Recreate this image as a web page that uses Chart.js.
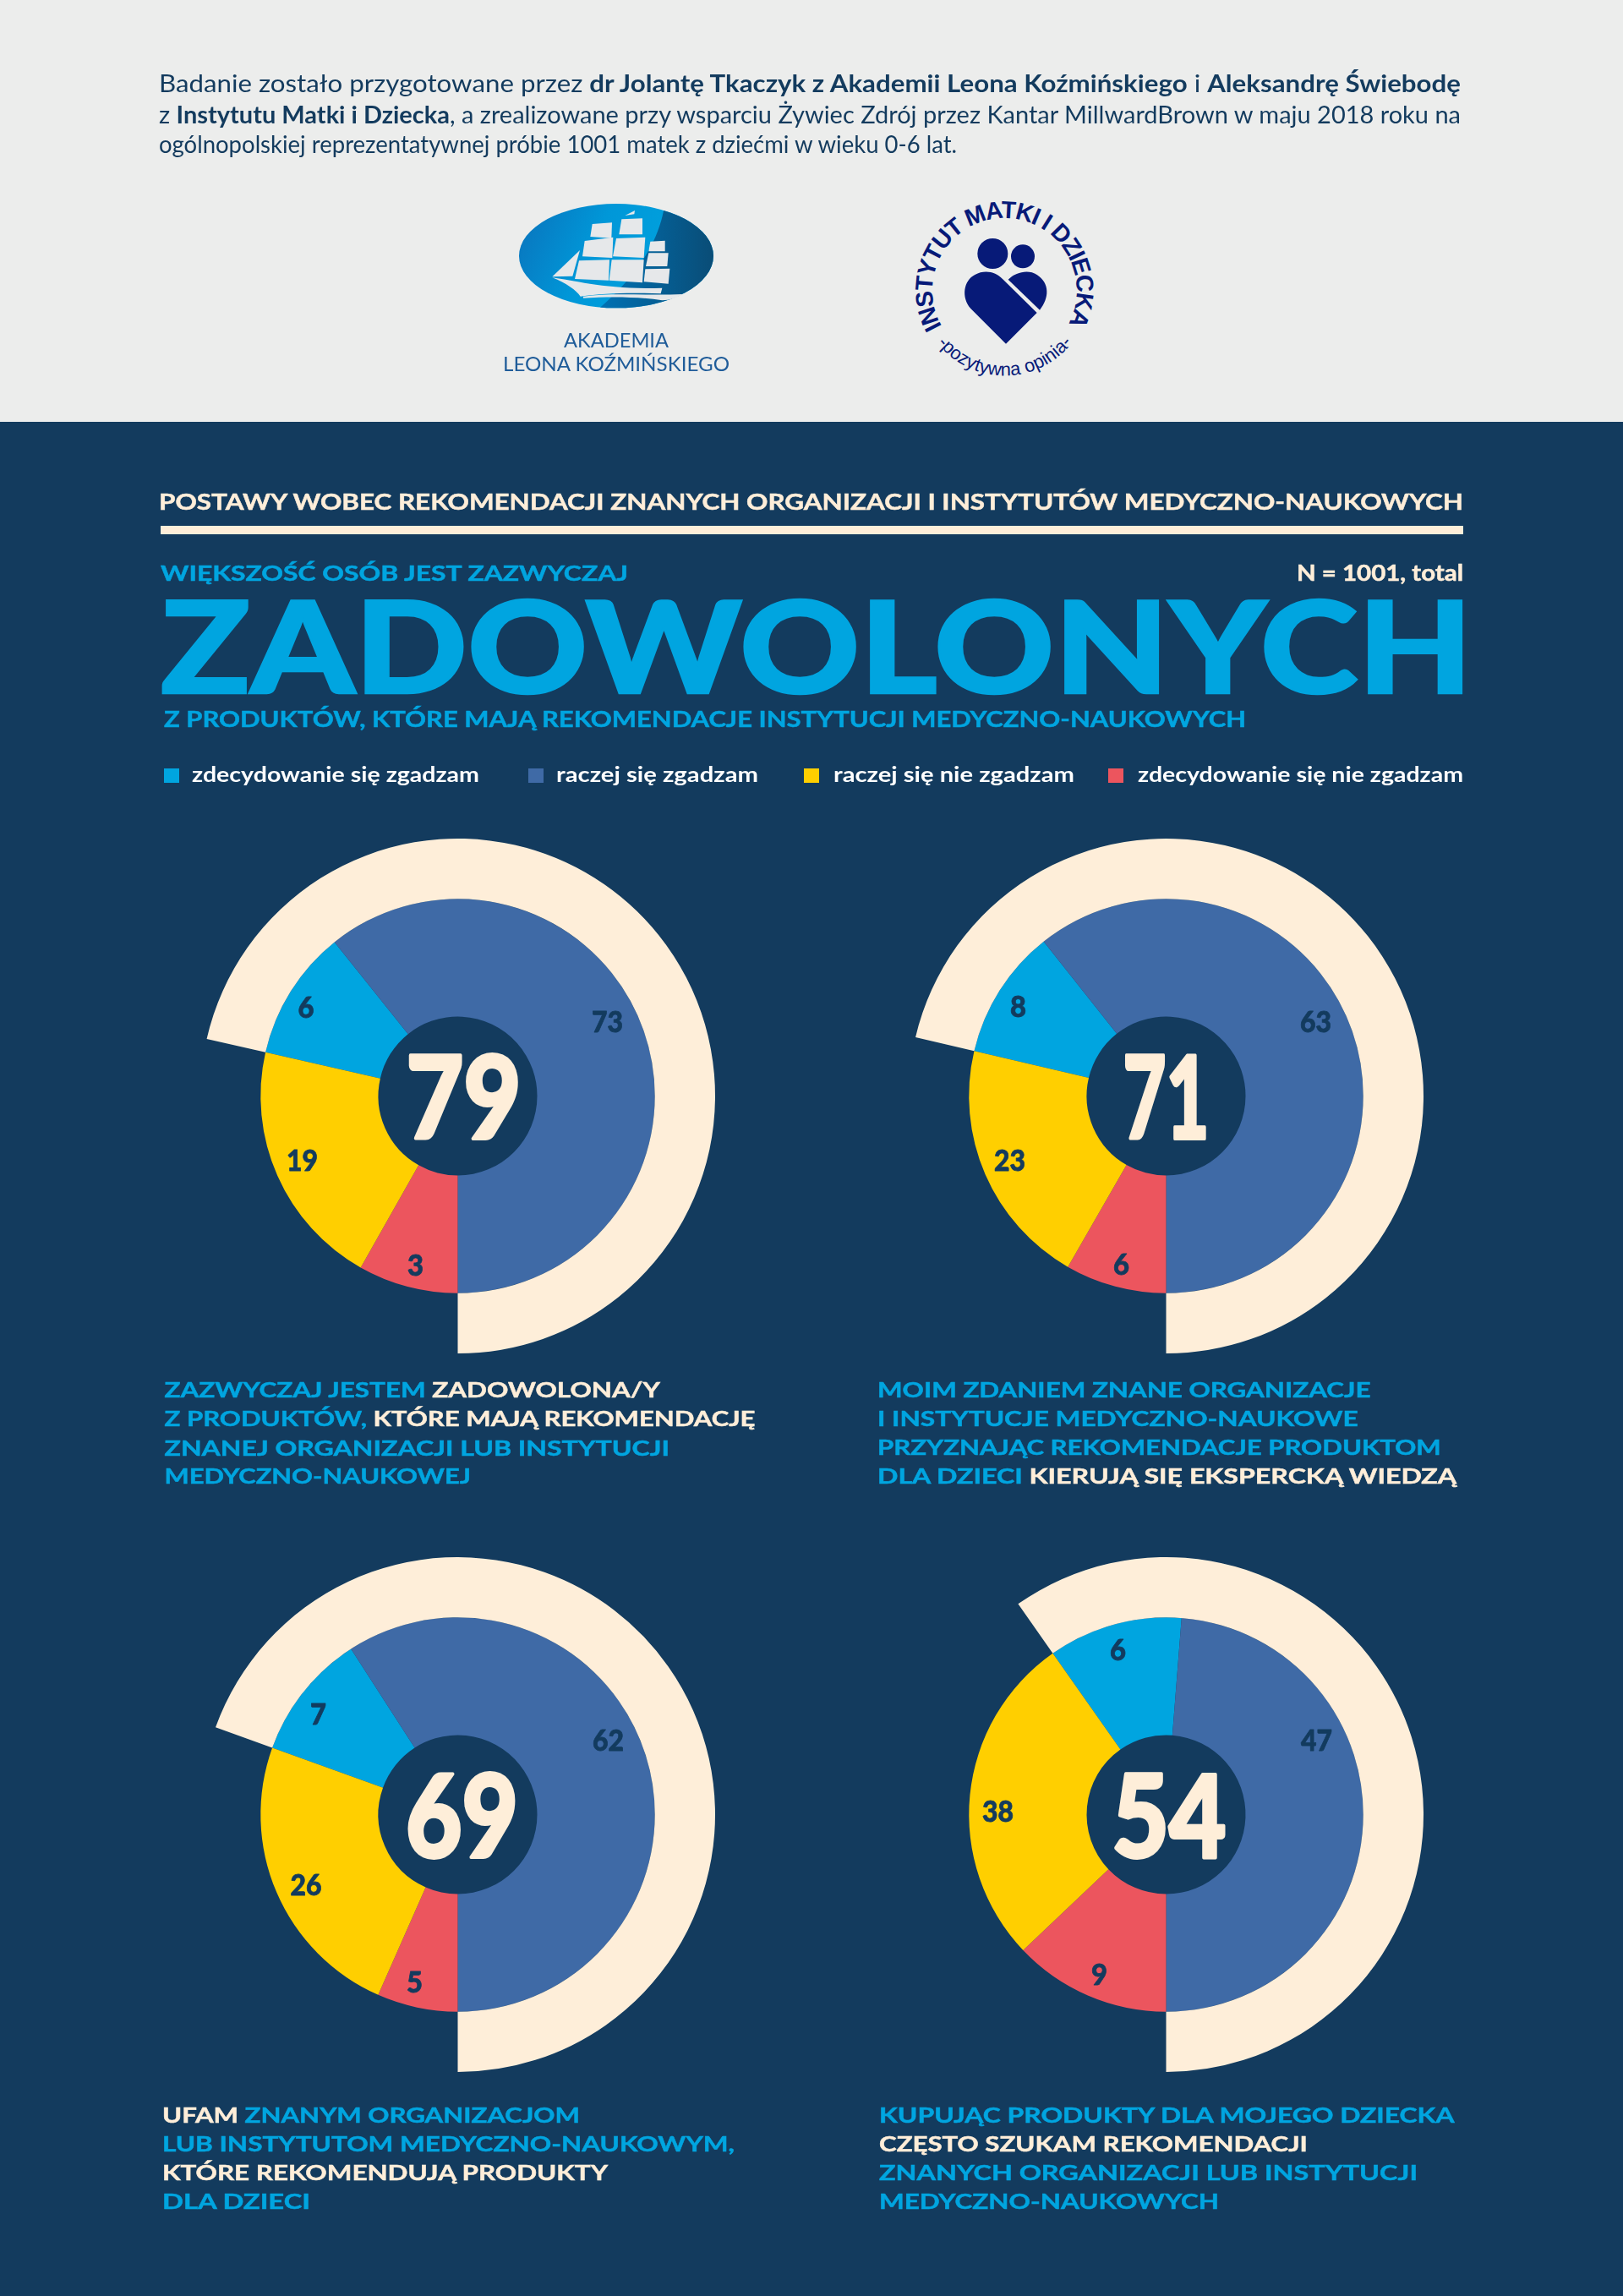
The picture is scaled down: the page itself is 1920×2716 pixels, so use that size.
<!DOCTYPE html>
<html lang="pl">
<head>
<meta charset="utf-8">
<title>Postawy wobec rekomendacji</title>
<script src="https://cdn.jsdelivr.net/npm/chart.js@4"></script>
<style>
  html, body { margin: 0; padding: 0; background: #133b5e; }
  #page { position: relative; width: 1920px; height: 2716px; overflow: hidden; background: #133b5e; }
  #band { position: absolute; left: 0; top: 0; width: 1920px; height: 499px; background: #ecedec; }
  #rule { position: absolute; left: 190px; top: 622px; width: 1541px; height: 10px; background: #feeed9; }
  #textLayer { position: absolute; left: 0; top: 0; z-index: 2; }
  #textLayer text { font-family: Lato, "Open Sans", sans-serif; white-space: pre; }
  .logo { position: absolute; z-index: 2; }
  canvas { position: absolute; z-index: 1; }
  .swatch { position: absolute; top: 909px; width: 18px; height: 17px; }
</style>
</head>
<body>
<div id="page">
  <div id="band"></div>
  <div id="rule"></div>

  <svg class="logo" style="left:580px;top:220px" width="300" height="240" viewBox="0 0 900 720">
    <defs>
      <linearGradient id="shipBase" x1="0" y1="0" x2="1" y2="0.25">
        <stop offset="0" stop-color="#0a72bb"/>
        <stop offset="0.45" stop-color="#0097d8"/>
        <stop offset="1" stop-color="#00a5e0"/>
      </linearGradient>
      <linearGradient id="shipDark" x1="0" y1="0" x2="1" y2="0">
        <stop offset="0" stop-color="#0072b5"/>
        <stop offset="1" stop-color="#0a4a72"/>
      </linearGradient>
      <clipPath id="shipClip"><ellipse cx="447" cy="248" rx="345" ry="185"/></clipPath>
    </defs>
    <ellipse cx="447" cy="248" rx="345" ry="185" fill="url(#shipBase)"/>
    <g clip-path="url(#shipClip)">
      <path d="M620 60 C600 200 520 320 380 440 L820 440 L820 60 Z" fill="url(#shipDark)"/>
    </g>
    <g fill="#e6e8ea">
      <path d="M478 105 L513 87 L511 100 Z"/>
      <path d="M362 135 L432 130 L430 185 L355 180 Z"/>
      <path d="M466 118 L540 115 L540 172 L457 172 Z"/>
      <path d="M335 195 L436 182 L433 255 L327 250 Z"/>
      <path d="M447 186 L550 182 L545 255 L435 250 Z"/>
      <path d="M315 265 L423 262 L420 335 L300 330 Z"/>
      <path d="M431 262 L545 262 L540 343 L422 335 Z"/>
      <path d="M568 197 L620 194 L620 232 L562 232 Z"/>
      <path d="M562 238 L632 238 L628 285 L552 285 Z"/>
      <path d="M550 295 L637 293 L632 347 L545 340 Z"/>
      <path d="M220 322 L318 228 L292 320 Z"/>
      <path d="M220 325 C300 335 420 370 610 362 L605 382 C500 378 400 380 320 392 C305 370 270 345 220 325 Z"/>
      <path d="M330 392 C430 378 560 390 682 384 C660 398 640 405 610 406 C520 392 420 392 330 398 Z"/>
    </g>
  </svg>

  <svg class="logo" style="left:1050px;top:220px" width="270" height="240" viewBox="0 0 810 720">
    <defs>
      <path id="ringTop" d="M193 498 A256 256 0 1 1 641 490"/>
      <path id="ringBottom" d="M176 557 A304 304 0 0 0 654 557"/>
    </defs>
    <g fill="#071a78">
      <circle cx="373" cy="240" r="54"/>
      <circle cx="480" cy="250" r="42"/>
      <path d="M420 560 L295 435 C260 395 270 335 310 315 C345 295 385 305 408 330 L530 450 Z"/>
      <path d="M428 332 C455 305 500 295 530 315 C575 345 575 395 540 440 Z"/>
      <text font-family="Liberation Sans" font-weight="700" font-size="86"><textPath href="#ringTop" textLength="1062">INSTYTUT MATKI I DZIECKA</textPath></text>
      <text font-family="Liberation Sans" font-size="66"><textPath href="#ringBottom" textLength="552">-pozytywna opinia-</textPath></text>
    </g>
  </svg>

  <svg id="textLayer" width="1920" height="2716"></svg>

  <div class="swatch" style="left:194px;background:#00a5e0"></div>
  <div class="swatch" style="left:625px;background:#3f6aa6"></div>
  <div class="swatch" style="left:951px;background:#ffcf00"></div>
  <div class="swatch" style="left:1311px;background:#ec555e"></div>

  <canvas id="chart0"></canvas>
  <canvas id="chart1"></canvas>
  <canvas id="chart2"></canvas>
  <canvas id="chart3"></canvas>
</div>

<script>
// Printed shares, in %, one entry per chart
const stronglyAgree = [6, 8, 7, 6];
const ratherAgree = [73, 63, 62, 47];
const ratherDisagree = [19, 23, 26, 38];
const stronglyDisagree = [3, 6, 5, 9];
const agreeTotals = [79, 71, 69, 54];

// Slice sweep in degrees. The slices in the original
// are not proportional to the printed shares, so both are kept.
const stronglyAgreeSweep = [38.5, 38.4, 37.4, 39.6];
const ratherAgreeSweep = [218.7, 218.4, 212.8, 175.5];
const ratherDisagreeSweep = [73.3, 73.3, 86.0, 98.4];
const stronglyDisagreeSweep = [29.5, 29.9, 23.8, 46.5];

const legendLabels = ['zdecydowanie się zgadzam', 'raczej się zgadzam', 'raczej się nie zgadzam', 'zdecydowanie się nie zgadzam'];

const NAVY = '#133b5e';
const CREAM = '#feeed9';
const CYAN = '#00a5e0';
const BLUE = '#3f6aa6';
const YELLOW = '#ffcf00';
const RED = '#ec555e';
const WHITE = '#ffffff';

const RING_OUTER = 304.5;
const RING_MIDDLE = 233.2;
const RING_HOLE = 94;

// Where each chart sits on the page, and where its labels sit around the center
const chartCenters = [[541.5, 1296], [1379.3, 1296], [541.5, 2146], [1379.3, 2146]];
const centerLayout = [
  { dx: 7, width: 136 },
  { dx: 0, width: 102 },
  { dx: 5, width: 133 },
  { dx: 3.5, width: 135 }
];
const labelOffsets = [
  [[-179.5, -105], [177, -88], [-184, 76], [-50, 200]],
  [[-175, -106], [177, -88], [-185, 76], [-53, 199]],
  [[-165, -119.5], [178, -88], [-179.5, 83], [-51, 198]],
  [[-57, -195], [178, -88], [-199, -4], [-79, 189]]
];

/**
 * Add one line of text to the page, stretched to the width it has in the original
 * @param {number} x - Left edge
 * @param {number} x2 - Right edge
 * @param {number} y - Baseline
 * @param {number} size - Font size
 * @param {Array} spans - [text, color, weight] triples
 * @param {number} thicken - Extra stroke width for the heavier original face
 */
function addLine(x, x2, y, size, spans, thicken = 0) {
  const layer = document.getElementById('textLayer');
  const line = document.createElementNS('http://www.w3.org/2000/svg', 'text');
  line.setAttribute('x', x);
  line.setAttribute('y', y);
  line.setAttribute('font-size', size);
  line.setAttribute('textLength', x2 - x);
  line.setAttribute('lengthAdjust', 'spacingAndGlyphs');
  spans.forEach(([text, color, weight]) => {
    const span = document.createElementNS('http://www.w3.org/2000/svg', 'tspan');
    span.textContent = text;
    span.setAttribute('fill', color);
    span.setAttribute('font-weight', weight || 700);
    if (thicken) {
      span.setAttribute('stroke', color);
      span.setAttribute('stroke-width', thicken);
    }
    line.appendChild(span);
  });
  layer.appendChild(line);
}

function addCaption(x, x2, y, spans) {
  addLine(x, x2, y, 25.6, spans, 0.5);
}

function drawPageText() {
  // Intro on the grey band
  addLine(188, 1728, 109, 28, [
    ['Badanie zostało przygotowane przez ', NAVY, 400],
    ['dr Jolantę Tkaczyk z Akademii Leona Koźmińskiego', NAVY, 700],
    [' i ', NAVY, 400],
    ['Aleksandrę Świebodę', NAVY, 700]
  ]);
  addLine(188, 1728, 146, 28, [
    ['z ', NAVY, 400],
    ['Instytutu Matki i Dziecka', NAVY, 700],
    [', a zrealizowane przy wsparciu Żywiec Zdrój przez Kantar MillwardBrown w maju 2018 roku na', NAVY, 400]
  ]);
  addLine(188, 1132, 181, 28, [['ogólnopolskiej reprezentatywnej próbie 1001 matek z dziećmi w wieku 0-6 lat.', NAVY, 400]]);

  addLine(667, 791, 411, 23.5, [['AKADEMIA', '#1f5c99', 400]]);
  addLine(595, 863, 439, 23.5, [['LEONA KOŹMIŃSKIEGO', '#1f5c99', 400]]);

  // Header
  addLine(188, 1731, 603, 27, [['POSTAWY WOBEC REKOMENDACJI ZNANYCH ORGANIZACJI I INSTYTUTÓW MEDYCZNO-NAUKOWYCH', CREAM]], 0.5);
  addLine(190, 743, 687, 25.5, [['WIĘKSZOŚĆ OSÓB JEST ZAZWYCZAJ', CYAN]], 0.5);
  addLine(1534, 1731, 687, 26, [['N = 1001, total', CREAM]], 0.5);
  addLine(190, 1742, 820, 151.5, [['ZADOWOLONYCH', CYAN, 900]], 2.5);
  addLine(194, 1474, 860, 27, [['Z PRODUKTÓW, KTÓRE MAJĄ REKOMENDACJE INSTYTUCJI MEDYCZNO-NAUKOWYCH', CYAN]], 0.5);

  // Legend
  addLine(227, 567, 925, 25.5, [[legendLabels[0], WHITE]]);
  addLine(658, 897, 925, 25.5, [[legendLabels[1], WHITE]]);
  addLine(986, 1271, 925, 25.5, [[legendLabels[2], WHITE]]);
  addLine(1346, 1731, 925, 25.5, [[legendLabels[3], WHITE]]);

  // Captions
  addCaption(194.5, 781, 1653, [['ZAZWYCZAJ JESTEM ', CYAN], ['ZADOWOLONA/Y', CREAM]]);
  addCaption(194.5, 893.5, 1687, [['Z PRODUKTÓW, ', CYAN], ['KTÓRE MAJĄ REKOMENDACJĘ', CREAM]]);
  addCaption(194.5, 792, 1721.5, [['ZNANEJ ORGANIZACJI LUB INSTYTUCJI', CYAN]]);
  addCaption(194.5, 557, 1755, [['MEDYCZNO-NAUKOWEJ', CYAN]]);

  addCaption(1038, 1621.5, 1653, [['MOIM ZDANIEM ZNANE ORGANIZACJE', CYAN]]);
  addCaption(1038, 1606.6, 1687, [['I INSTYTUCJE MEDYCZNO-NAUKOWE', CYAN]]);
  addCaption(1038, 1704.7, 1721, [['PRZYZNAJĄC REKOMENDACJE PRODUKTOM', CYAN]]);
  addCaption(1038, 1723, 1754.5, [['DLA DZIECI ', CYAN], ['KIERUJĄ SIĘ EKSPERCKĄ WIEDZĄ', CREAM]]);

  addCaption(192, 686, 2511, [['UFAM ', CREAM], ['ZNANYM ORGANIZACJOM', CYAN]]);
  addCaption(192, 869, 2545, [['LUB INSTYTUTOM MEDYCZNO-NAUKOWYM,', CYAN]]);
  addCaption(192, 719, 2579, [['KTÓRE REKOMENDUJĄ PRODUKTY', CREAM]]);
  addCaption(192, 367, 2612.5, [['DLA DZIECI', CYAN]]);

  addCaption(1040, 1720.5, 2511, [['KUPUJĄC PRODUKTY DLA MOJEGO DZIECKA', CYAN]]);
  addCaption(1040, 1546.8, 2545, [['CZĘSTO SZUKAM REKOMENDACJI', CREAM]]);
  addCaption(1040, 1677, 2579, [['ZNANYCH ORGANIZACJI LUB INSTYTUCJI', CYAN]]);
  addCaption(1040, 1442, 2612.5, [['MEDYCZNO-NAUKOWYCH', CYAN]]);
}

// Printed shares on the slices and the big total in the hole
const ringLabels = {
  id: 'ringLabels',
  afterDatasetsDraw(chart, args, opts) {
    const { ctx } = chart;
    const arc = chart.getDatasetMeta(1).data[0];
    ctx.save();
    ctx.textAlign = 'center';
    ctx.textBaseline = 'alphabetic';
    ctx.lineJoin = 'round';

    ctx.fillStyle = NAVY;
    ctx.strokeStyle = NAVY;
    ctx.lineWidth = 0.8;
    ctx.font = '900 35px Lato';
    opts.values.forEach((value, idx) => {
      const [dx, dy] = opts.offsets[idx];
      const maxWidth = value > 9 ? 37 : 19;
      ctx.fillText(String(value), arc.x + dx, arc.y + dy + 12.5, maxWidth);
      ctx.strokeText(String(value), arc.x + dx, arc.y + dy + 12.5, maxWidth);
    });

    // Big total, stretched to the width it has in the original
    const total = String(opts.total);
    ctx.fillStyle = CREAM;
    ctx.strokeStyle = CREAM;
    ctx.lineWidth = 4;
    ctx.font = '900 135px Lato';
    const stretch = opts.center.width / ctx.measureText(total).width;
    ctx.translate(arc.x + opts.center.dx, arc.y + 50);
    ctx.scale(stretch, 1);
    ctx.fillText(total, 0, 0);
    ctx.strokeText(total, 0, 0);
    ctx.restore();
  }
};

/**
 * Render one ring chart
 * @param {number} idx - Chart index
 */
function renderRingChart(idx) {
  const canvas = document.getElementById(`chart${idx}`);
  const [cx, cy] = chartCenters[idx];
  const size = RING_OUTER * 2;
  canvas.width = size;
  canvas.height = size;
  canvas.style.left = `${cx - RING_OUTER}px`;
  canvas.style.top = `${cy - RING_OUTER}px`;
  canvas.style.width = `${size}px`;
  canvas.style.height = `${size}px`;

  const agreeSweep = stronglyAgreeSweep[idx] + ratherAgreeSweep[idx];
  const disagreeSweep = stronglyDisagreeSweep[idx] + ratherDisagreeSweep[idx];

  return new Chart(canvas.getContext('2d'), {
    type: 'doughnut',
    data: {
      datasets: [
        {
          data: [agreeSweep, disagreeSweep],
          backgroundColor: [CREAM, 'rgba(0,0,0,0)'],
          borderWidth: 0,
          weight: RING_OUTER - RING_MIDDLE
        },
        {
          // Clockwise from the start of the cream arc
          data: [stronglyAgreeSweep[idx], ratherAgreeSweep[idx], stronglyDisagreeSweep[idx], ratherDisagreeSweep[idx]],
          backgroundColor: [CYAN, BLUE, RED, YELLOW],
          borderWidth: 0,
          weight: RING_MIDDLE - RING_HOLE
        }
      ]
    },
    options: {
      responsive: false,
      devicePixelRatio: 1,
      animation: false,
      rotation: 180 - agreeSweep,
      cutout: `${(RING_HOLE / RING_OUTER) * 100}%`,
      layout: { padding: 0 },
      events: [],
      plugins: {
        legend: { display: false },
        tooltip: { enabled: false },
        ringLabels: {
          values: [stronglyAgree[idx], ratherAgree[idx], ratherDisagree[idx], stronglyDisagree[idx]],
          offsets: labelOffsets[idx],
          total: agreeTotals[idx],
          center: centerLayout[idx]
        }
      }
    },
    plugins: [ringLabels]
  });
}

drawPageText();
chartCenters.forEach((_, idx) => renderRingChart(idx));
</script>
</body>
</html>
